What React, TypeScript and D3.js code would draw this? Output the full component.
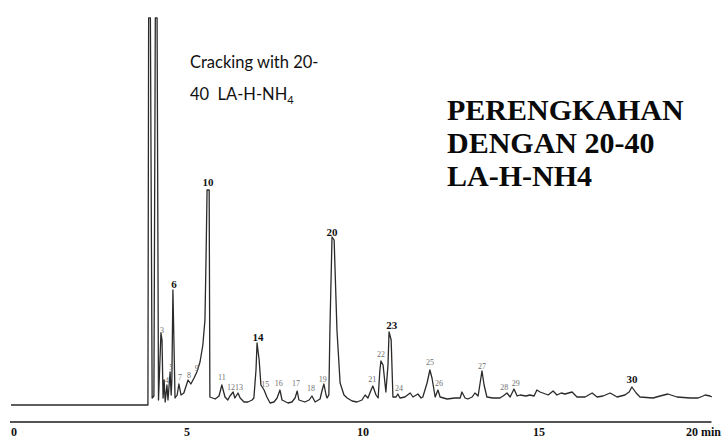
import React from "react";
import * as d3 from "d3";

// Retention time (min) and detector signal
const retentionTime = [
  0, 3.89, 3.91, 3.96, 4.01, 4.06, 4.1, 4.15, 4.19, 4.26, 4.29, 4.32, 4.35, 4.38, 4.43, 4.46,
  4.52, 4.55, 4.57, 4.6, 4.66, 4.72, 4.77, 4.83, 4.91, 5.03, 5.11, 5.2, 5.28, 5.37, 5.45, 5.51,
  5.54, 5.57, 5.63, 5.65, 5.8, 5.91, 5.99, 6.08, 6.16, 6.22, 6.31, 6.36, 6.45, 6.51, 6.62, 6.73,
  6.85, 6.9, 6.96, 6.99, 7.05, 7.1, 7.19, 7.27, 7.36, 7.47, 7.56, 7.64, 7.7, 7.87, 7.98, 8.07,
  8.13, 8.18, 8.35, 8.47, 8.55, 8.64, 8.78, 8.84, 8.89, 8.95, 8.98, 9.03, 9.06, 9.12, 9.18, 9.26,
  9.35, 9.46, 9.55, 9.69, 9.83, 9.97, 10.06, 10.14, 10.23, 10.28, 10.37, 10.43, 10.48, 10.51, 10.57, 10.65,
  10.71, 10.74, 10.8, 10.85, 10.94, 10.99, 11.05, 11.19, 11.34, 11.42, 11.56, 11.65, 11.7, 11.82, 11.9, 11.96,
  12.05, 12.13, 12.19, 12.39, 12.61, 12.76, 12.81, 12.9, 12.98, 13.1, 13.18, 13.27, 13.38, 13.44, 13.52, 13.69,
  13.89, 13.98, 14.09, 14.18, 14.29, 14.38, 14.46, 14.63, 14.74, 14.86, 14.94, 15.03, 15.11, 15.26, 15.4, 15.51,
  15.63, 15.74, 15.94, 16.08, 16.31, 16.51, 16.65, 16.82, 17.02, 17.22, 17.44, 17.56, 17.64, 17.76, 17.87, 18.24,
  18.44, 18.66, 18.92, 19.29, 19.52, 19.66, 19.72, 19.86, 19.91,
];
const signal = [
  0, 0, 96.8, 96.8, 1.75, 2.25, 96.8, 96.8, 1.25, 18, 16.25, 1.75, 6.25, 0.75, 5, 1.25,
  8.25, 2.5, 6.25, 28.75, 1.75, 2.5, 5.25, 2.5, 3, 6.25, 5.25, 6.75, 8.25, 10.75, 15, 21.25,
  36.25, 53.75, 53.75, 2, 1.5, 2.25, 5, 2, 1.25, 2.25, 3.25, 1.75, 3, 1.75, 0.75, 0.75,
  1.25, 1.75, 8.75, 15.5, 11.25, 5, 3.75, 2, 0.5, 0.75, 1.75, 3.75, 1.25, 0.5, 0.75, 1.75,
  3.5, 1.25, 0.75, 1.25, 2.25, 0.75, 1.5, 3.75, 5.25, 2.5, 1.75, 2.5, 18.75, 42, 41.25, 18.75,
  5.5, 2.5, 1.75, 1, 0.75, 1.25, 2.5, 1.75, 3.75, 4.75, 2.5, 1.75, 8.75, 11, 10, 3.25,
  10, 18.25, 16.25, 2, 2, 2.75, 1.75, 2, 3, 2, 2.75, 1.75, 2, 5.5, 8.75, 6.75,
  2, 3.75, 2, 1.5, 1.75, 1.75, 3.25, 1.75, 1.5, 2, 3, 2.25, 8.5, 5, 2, 1.75,
  1.75, 2.25, 3, 2, 4, 2.25, 2.5, 2.25, 2.5, 2.25, 3.75, 3.25, 3, 2.5, 3.5, 2.5,
  3, 2.75, 3.25, 2, 2, 3, 2, 2.25, 3, 2, 2.5, 3.25, 4.5, 3, 2, 1.75,
  2.25, 2.75, 2, 1.75, 1.75, 2.25, 2.5, 2.25, 2,
];

// Peak numbering (label, time, label level)
const peakLabels = [
  "3", "4", "5", "6", "7", "8", "9", "10", "11", "12", "13", "14", "15", "16",
  "17", "18", "19", "20", "21", "22", "23", "24", "25", "26", "27", "28", "29", "30",
];
const peakLabelTimes = [
  4.29, 4.43, 4.55, 4.63, 4.8, 5.06, 5.28, 5.6, 5.99, 6.25, 6.48, 7.02, 7.22, 7.61,
  8.1, 8.52, 8.86, 9.12, 10.26, 10.51, 10.82, 11.02, 11.9, 12.16, 13.38, 14.01, 14.34, 17.64,
];
const peakLabelLevels = [
  18.75, 6.25, 9.5, 30.25, 7, 7.5, 9.25, 55.75, 7, 4.5, 4.5, 17, 5.25, 5.5,
  5.5, 4.25, 6.5, 43.25, 6.5, 12.75, 20, 4.25, 10.75, 5.5, 9.75, 4.5, 5.5, 6.5,
];
const majorPeaks = ["6", "10", "14", "20", "23", "30"];

const xTickValues = [0, 5, 10, 15, 20];
const xTickLabels = ["0", "5", "10", "15", "20 min"];

const titleEn = ["Cracking with 20-", "40  LA-H-NH"];
const titleId = ["PERENGKAHAN", "DENGAN 20-40", "LA-H-NH4"];

const W = 722;
const H = 438;

export default function App() {
  const x = d3.scaleLinear().domain([0, 20]).range([11, 715]);
  const y = d3.scaleLinear().domain([0, 100]).range([405, 5]);
  const pts: [number, number][] = retentionTime.map((t, i) => [t, signal[i]]);
  const line = d3
    .line<[number, number]>()
    .x((d) => x(d[0]))
    .y((d) => y(d[1]));
  const axisY = 422;
  const serif = "'Liberation Serif', 'Times New Roman', serif";
  const sans = "Lato, 'Open Sans', sans-serif";

  return (
    <svg
      width={W}
      height={H}
      viewBox={`0 0 ${W} ${H}`}
      style={{ position: "absolute", left: 0, top: 0, background: "#fff" }}
    >
      <rect x={0} y={0} width={W} height={H} fill="#fff" />
      <path d={line(pts) || ""} fill="none" stroke="#2a2a2a" strokeWidth={1.3} strokeLinejoin="round" />

      {/* axis */}
      <line x1={x(0) - 1} x2={x(19.9)} y1={axisY} y2={axisY} stroke="#1a1a1a" strokeWidth={1.7} />
      {xTickValues.map((v, i) => (
        <text
          key={v}
          x={i === xTickValues.length - 1 ? x(v) - 29 : x(v) + (i === 0 ? 3 : 0)}
          y={436}
          textAnchor={i === xTickValues.length - 1 ? "start" : "middle"}
          fontFamily={serif}
          fontWeight="bold"
          fontSize={12}
          fill="#111"
        >
          {xTickLabels[i]}
        </text>
      ))}

      {/* peak labels */}
      {peakLabels.map((lab, i) => {
        const major = majorPeaks.includes(lab);
        return (
          <text
            key={lab}
            x={x(peakLabelTimes[i])}
            y={y(peakLabelLevels[i])}
            dy="0.35em"
            textAnchor="middle"
            fontFamily={serif}
            fontWeight={major ? "bold" : "normal"}
            fontSize={major ? 11 : 8}
            fill={major ? "#111" : "#707070"}
          >
            {lab}
          </text>
        );
      })}

      {/* English annotation */}
      <text x={190} y={68} fontFamily={sans} fontSize={16.5} fill="#111">
        {titleEn[0]}
      </text>
      <text x={190} y={100} fontFamily={sans} fontSize={16.5} fill="#111" xmlSpace="preserve">
        {titleEn[1]}
        <tspan fontSize={11} dy={4}>4</tspan>
      </text>

      {/* Indonesian annotation */}
      {titleId.map((t, i) => (
        <text
          key={t}
          x={447}
          y={120 + i * 33}
          fontFamily={serif}
          fontWeight="bold"
          fontSize={30}
          fill="#0a0a0a"
        >
          {t}
        </text>
      ))}
    </svg>
  );
}
